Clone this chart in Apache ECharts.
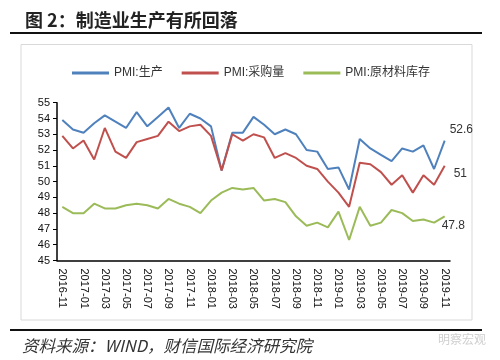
<!DOCTYPE html>
<html><head><meta charset="utf-8">
<script src="https://cdn.jsdelivr.net/npm/echarts@6/dist/echarts.min.js"></script>
<style>html,body{margin:0;padding:0;background:#fff}#c{width:500px;height:360px}</style>
</head><body><div id="c"></div>
<script>
var categories = ["2016-11","2016-12","2017-01","2017-02","2017-03","2017-04","2017-05","2017-06","2017-07","2017-08","2017-09","2017-10","2017-11","2017-12","2018-01","2018-02","2018-03","2018-04","2018-05","2018-06","2018-07","2018-08","2018-09","2018-10","2018-11","2018-12","2019-01","2019-02","2019-03","2019-04","2019-05","2019-06","2019-07","2019-08","2019-09","2019-10","2019-11"];
var production = [53.9,53.3,53.1,53.7,54.2,53.8,53.4,54.4,53.5,54.1,54.7,53.4,54.3,54.0,53.5,50.7,53.1,53.1,54.1,53.6,53.0,53.3,53.0,52.0,51.9,50.8,50.9,49.5,52.7,52.1,51.7,51.3,52.1,51.9,52.3,50.8,52.6];
var purchase = [52.9,52.1,52.6,51.4,53.4,51.9,51.5,52.5,52.7,52.9,53.8,53.2,53.5,53.6,52.9,50.7,53.0,52.6,53.0,52.8,51.5,51.8,51.5,51.0,50.8,50.0,49.3,48.4,51.2,51.1,50.6,49.8,50.4,49.3,50.4,49.8,51.0];
var inventory = [48.4,48.0,48.0,48.6,48.3,48.3,48.5,48.6,48.5,48.3,48.9,48.6,48.4,48.0,48.8,49.3,49.6,49.5,49.6,48.8,48.9,48.7,47.8,47.2,47.4,47.1,48.1,46.3,48.4,47.2,47.4,48.2,48.0,47.5,47.6,47.4,47.8];
var seriesNames = ["PMI:生产","PMI:采购量","PMI:原材料库存"];
var titleText = "图 2：制造业生产有所回落";
var sourceText = "资料来源：WIND，财信国际经济研究院";

var font = "'Liberation Sans','Noto Sans CJK SC',sans-serif";
var chart = echarts.init(document.getElementById('c'), null, {renderer:'canvas'});
function endLbl(offset){
  return {show:true, offset:offset, distance:5, color:'#333', fontSize:12, fontFamily:font,
    formatter:function(p){return String(p.value);}};
}
chart.setOption({
  animation:false,
  textStyle:{fontFamily:font},
  title:{text:titleText, left:20, top:6, textStyle:{fontSize:18, fontWeight:'bold', color:'#222', fontFamily:"'Noto Sans CJK SC',sans-serif"}},
  graphic:[
    {type:'line', shape:{x1:10,y1:33,x2:482,y2:33}, style:{stroke:'#111', lineWidth:2}},
    {type:'rect', shape:{x:21,y:44.5,width:451,height:275.5}, style:{fill:'none', stroke:'#d9d9d9', lineWidth:1}},
    {type:'line', shape:{x1:10,y1:330,x2:482,y2:330}, style:{stroke:'#111', lineWidth:2}},
    {type:'text', left:22, top:337, style:{text:sourceText, fill:'#333', font:"italic 16.5px 'Noto Sans CJK SC',sans-serif"}},
    {type:'text', left:438, top:333, style:{text:'明察宏观', fill:'#cfcfcf', font:"12px 'Noto Sans CJK SC',sans-serif"}}
  ],
  legend:{left:67, top:62, itemWidth:37, itemHeight:3, itemGap:19, icon:'rect',
    textStyle:{fontSize:12, color:'#333', fontFamily:font}, data:seriesNames},
  grid:{left:57, right:50, top:102.7, bottom:99.5, containLabel:false},
  xAxis:{type:'category', data:categories, boundaryGap:true,
    axisLine:{lineStyle:{color:'#000', width:1.5}},
    axisTick:{interval:1, length:4, lineStyle:{color:'#000'}},
    axisLabel:{interval:1, rotate:-90, fontSize:11, color:'#111', margin:8, fontFamily:font},
    splitLine:{show:false}},
  yAxis:{type:'value', min:45, max:55, interval:1,
    axisLine:{show:true, lineStyle:{color:'#000', width:1.5}},
    axisTick:{show:true, length:4, lineStyle:{color:'#000'}},
    axisLabel:{fontSize:11, color:'#111', margin:7, fontFamily:font},
    splitLine:{show:false}},
  series:[
    {name:seriesNames[0], type:'line', data:production, symbol:'none', lineStyle:{color:'#4F81BD', width:2}, itemStyle:{color:'#4F81BD'}, endLabel:endLbl([0,-11])},
    {name:seriesNames[1], type:'line', data:purchase, symbol:'none', lineStyle:{color:'#C0504D', width:2}, itemStyle:{color:'#C0504D'}, endLabel:endLbl([4,8])},
    {name:seriesNames[2], type:'line', data:inventory, symbol:'none', lineStyle:{color:'#9BBB59', width:2}, itemStyle:{color:'#9BBB59'}, endLabel:endLbl([-8,9])}
  ]
});
</script></body></html>
